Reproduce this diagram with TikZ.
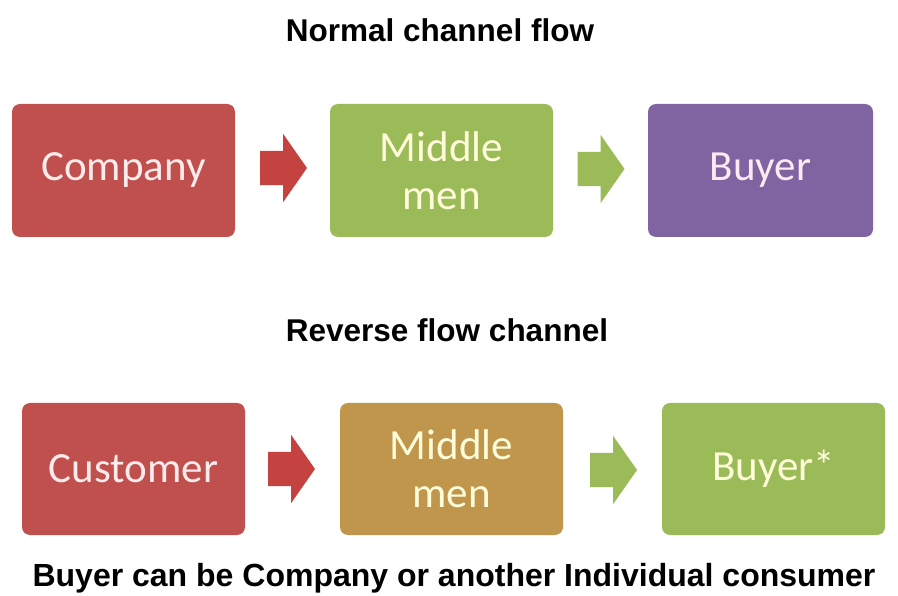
\documentclass[tikz,border=0pt]{standalone}
\usepackage{fontspec}
\setmainfont{Carlito}
\newfontfamily\arialfont{Liberation Sans}
\usetikzlibrary{shapes.arrows}
\definecolor{cred}{HTML}{C0504D}
\definecolor{cgreen}{HTML}{9BBB59}
\definecolor{cpurple}{HTML}{8064A2}
\definecolor{cgold}{HTML}{BF964B}
\definecolor{cared}{HTML}{C4423F}
\tikzset{
  box/.style={rounded corners=8pt, minimum width=223pt, minimum height=133pt, inner sep=0pt,
    font=\fontsize{43}{48}\selectfont, align=center},
  blockarrow/.style={single arrow, minimum height=47pt, inner xsep=0pt, inner ysep=17pt,
    text width=0pt, text height=0pt, text depth=0pt,
    single arrow head extend=17pt, single arrow tip angle=110, shape border rotate=0},
  title/.style={font=\arialfont\bfseries\fontsize{31.5}{34}\selectfont, text=black, inner sep=0pt},
}
\begin{document}
\begin{tikzpicture}[x=1pt,y=-1pt]
\useasboundingbox[fill=white] (0,0) rectangle (898,596);
\node[title] (t1) at (440,30) {Normal channel flow};
\node[box, fill=cred, text=white!92!red] (company) at (123.5,170.5) {Company};
\node[box, fill=cgreen, text=white!85!yellow] (mm1) at (441.5,170.5) {Middle\\men};
\node[box, fill=cpurple, text=white!92!purple, minimum width=225pt] (buyer) at (760.5,170.5) {Buyer};
\node[blockarrow, fill=cared] (a1) at (277.5,168) {};
\node[blockarrow, fill=cgreen] (a2) at (595,169) {};
\node[title] (t2) at (447,330) {Reverse flow channel};
\node[box, fill=cred, text=white!92!red, minimum height=132pt] (customer) at (133.5,469) {Customer};
\node[box, fill=cgold, text=white!85!yellow, minimum height=132pt] (mm2) at (451.5,469) {Middle\\men};
\node[box, fill=cgreen, text=white!85!yellow, minimum height=132pt] (buyer2) at (773.5,469) {Buyer*};
\node[blockarrow, fill=cared] (a3) at (285.5,469) {};
\node[blockarrow, fill=cgreen] (a4) at (607.5,470) {};
\node[title, font=\arialfont\bfseries\fontsize{32}{36}\selectfont] (t3) at (454,578) {Buyer can be Company or another Individual consumer};
\end{tikzpicture}
\end{document}
